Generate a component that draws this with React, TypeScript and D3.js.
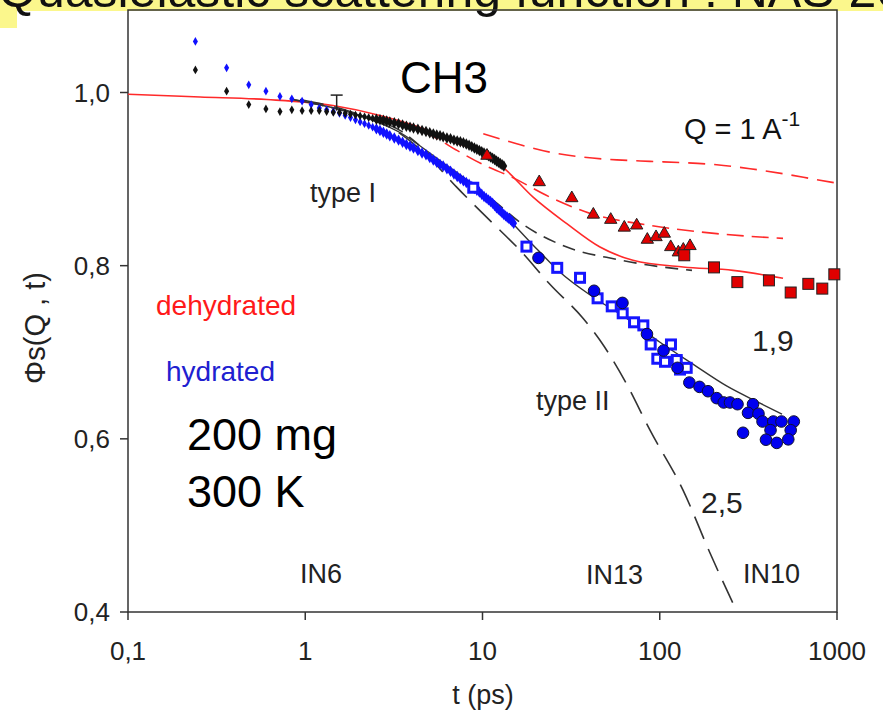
import React from 'react';
import * as d3 from 'd3';

const W = 883;
const H = 711;

const xTickValues = [0.1, 1, 10, 100, 1000];
const xTickLabels = ['0,1', '1', '10', '100', '1000'];
const yTickValues = [0.4, 0.6, 0.8, 1.0];
const yTickLabels = ['0,4', '0,6', '0,8', '1,0'];

// IN6 data (small diamonds)
const in6DehydT = [0.24, 0.36, 0.48, 0.60, 0.72, 0.84, 0.96, 1.08, 1.20,
  1.32, 1.44, 1.56, 1.68, 1.80, 1.92, 2.04, 2.16, 2.28, 2.40,
  2.52, 2.64, 2.76, 2.88, 3.00,
  3.18, 3.36, 3.54, 3.72, 3.90, 4.08,
  4.32, 4.56, 4.80, 5.04, 5.28, 5.52, 5.76, 6.00,
  6.30, 6.60, 6.90, 7.20, 7.50, 7.80, 8.10, 8.40, 8.70, 9.00,
  9.30, 9.60, 9.90, 10.2, 10.5, 10.8, 11.1, 11.4, 11.7, 12.0,
  12.3, 12.6, 12.9, 13.2];
const in6DehydV = [1.026, 1.0015, 0.986, 0.981, 0.978, 0.980, 0.979, 0.979, 0.979,
  0.978, 0.977, 0.977, 0.976, 0.975, 0.974, 0.973, 0.972, 0.971, 0.970,
  0.969, 0.9685, 0.968, 0.967, 0.966,
  0.965, 0.964, 0.9625, 0.961, 0.960, 0.959,
  0.9575, 0.956, 0.955, 0.9535, 0.952, 0.951, 0.950, 0.949,
  0.9475, 0.9465, 0.945, 0.944, 0.943, 0.942, 0.9405, 0.939, 0.9375, 0.936,
  0.9345, 0.933, 0.9315, 0.930, 0.9285, 0.927, 0.9255, 0.924, 0.9225, 0.921,
  0.9195, 0.918, 0.9165, 0.915];

const in6HydT = [0.24, 0.36, 0.48, 0.60, 0.72, 0.84, 0.96, 1.08, 1.20,
  1.32, 1.44, 1.56, 1.68, 1.80, 1.92, 2.04, 2.16, 2.28, 2.40,
  2.52, 2.64, 2.76, 2.88, 3.00,
  3.18, 3.36, 3.54, 3.72, 3.90, 4.08,
  4.32, 4.56, 4.80, 5.04, 5.28, 5.52, 5.76, 6.00,
  6.30, 6.60, 6.90, 7.20, 7.50, 7.80, 8.10, 8.40, 8.70, 9.00,
  9.30, 9.60, 9.90, 10.2, 10.5, 10.8, 11.1, 11.4, 11.7, 12.0,
  12.3, 12.6, 12.9, 13.2, 13.5, 13.8, 14.1, 14.4, 14.7, 15.0];
const in6HydV = [1.059, 1.0285, 1.0089, 1.0015, 0.9954, 0.9927, 0.990, 0.986, 0.982,
  0.980, 0.978, 0.976, 0.9735, 0.971, 0.9685, 0.966, 0.964, 0.962, 0.960,
  0.958, 0.956, 0.954, 0.952, 0.950,
  0.9475, 0.945, 0.9425, 0.940, 0.938, 0.936,
  0.933, 0.930, 0.928, 0.925, 0.922, 0.9195, 0.917, 0.915,
  0.912, 0.909, 0.906, 0.903, 0.9005, 0.898, 0.896, 0.894, 0.8915, 0.889,
  0.887, 0.885, 0.8825, 0.880, 0.878, 0.876, 0.874, 0.872, 0.8695, 0.867,
  0.865, 0.863, 0.861, 0.859, 0.8575, 0.856, 0.8545, 0.853, 0.851, 0.849];

// IN13 hydrated (open blue squares)
const in13HydT = [8.87, 17.7, 26.4, 35.5, 44.6, 53.6, 61.8, 71.6, 80.8, 88.9, 115.7, 96.9, 107.1, 124.7, 130.1, 141.9];
const in13HydV = [0.890, 0.822, 0.7975, 0.786, 0.7623, 0.753, 0.745, 0.7346, 0.731, 0.709, 0.709, 0.6925, 0.689, 0.691, 0.680, 0.682];

// IN10 hydrated (filled blue circles)
const in10HydT = [20.7, 42.6, 61.6, 84.7, 105, 125.9, 146.9, 167.6, 187.2, 209.5, 229.6, 249, 274.6, 335.8, 314.7, 360.6, 380, 437.2, 486, 570.5, 421.7, 548, 295, 397.5, 457, 531];
const in10HydV = [0.809, 0.771, 0.757, 0.721, 0.702, 0.682, 0.665, 0.660, 0.655, 0.647, 0.642, 0.642, 0.640, 0.640, 0.630, 0.629, 0.620, 0.620, 0.620, 0.620, 0.610, 0.610, 0.607, 0.599, 0.5953, 0.5994];

// IN13 dehydrated (red triangles)
const in13DehydT = [10.6, 20.9, 31.9, 42.2, 52.9, 63.1, 74.1, 85.1, 95.3, 106.1, 115.3, 127.3, 135.8, 148.2];
const in13DehydV = [0.927, 0.8965, 0.878, 0.859, 0.853, 0.844, 0.8465, 0.830, 0.833, 0.837, 0.8215, 0.8154, 0.8185, 0.8227];

// IN10 dehydrated (red squares)
const in10DehydT = [137.5, 202.3, 274, 413, 548, 689, 826, 966];
const in10DehydV = [0.812, 0.798, 0.781, 0.783, 0.769, 0.779, 0.7735, 0.790];

// model curves
const redSolidT = [0.1, 0.255, 0.608, 1.434, 2.64, 4.44, 6.56, 9.68, 13.05, 19.3, 29.9, 46.0, 70.6, 135.3, 259, 496];
const redSolidV = [0.998, 0.9948, 0.9919, 0.985, 0.9735, 0.9596, 0.9446, 0.9308, 0.9135, 0.8792, 0.8485, 0.8215, 0.8062, 0.7984, 0.7946, 0.7854];

const redMidT = [3.42, 5.54, 7.18, 10.3, 14.6, 24.0, 40.4, 88.1, 209.5, 496];
const redMidV = [0.9665, 0.9469, 0.9331, 0.9158, 0.9023, 0.8792, 0.8604, 0.8465, 0.837, 0.8315];

const redUpperT = [10.1, 15.6, 24.0, 37.0, 57.2, 88.1, 135.8, 209.5, 323, 498, 769, 996];
const redUpperV = [0.9523, 0.9408, 0.9311, 0.9253, 0.9222, 0.9205, 0.919, 0.9165, 0.912, 0.9062, 0.8993, 0.8953];

const blackShortT = [0.82, 1.79, 3.42, 6.56, 11.5, 16.9, 29.9, 57.2, 88.1, 152];
const blackShortV = [0.9925, 0.9769, 0.9562, 0.9077, 0.8754, 0.8477, 0.8215, 0.8073, 0.8004, 0.7946];

const blackSolidT = [0.82, 1.79, 3.42, 5.75, 8.5, 12.55, 20.6, 27.4, 42.0, 65.1, 100.3, 154, 239.5, 367.8, 489.6];
const blackSolidV = [0.9925, 0.9769, 0.9538, 0.9215, 0.8962, 0.8639, 0.8177, 0.7923, 0.7638, 0.7392, 0.7115, 0.6862, 0.6608, 0.6412, 0.6285];

const blackLongT = [0.933, 1.79, 3.42, 5.06, 7.15, 11.0, 16.3, 24.0, 36.9, 46.0, 65.1, 88.1, 135.3, 192.1, 272.8];
const blackLongV = [0.9919, 0.9781, 0.9527, 0.9238, 0.8907, 0.8523, 0.8177, 0.7785, 0.7392, 0.7139, 0.6631, 0.61, 0.5408, 0.4681, 0.4];

const errT = 1.504;
const errLow = 0.979;
const errHigh = 0.997;

const FONT = 'Liberation Sans, Arial, Helvetica, sans-serif';

const zip = (a: number[], b: number[]) => a.map((t, i) => [t, b[i]] as [number, number]);

export default function App() {
  const x = d3.scaleLog().domain([0.1, 1000]).range([128, 837]);
  const y = d3.scaleLinear().domain([0.4, 1.0]).range([612, 92.5]);
  const frameTop = 10;
  const left = x(0.1);
  const right = x(1000);
  const bottom = y(0.4);

  const line = d3
    .line<[number, number]>()
    .x((d) => x(d[0]))
    .y((d) => y(d[1]))
    .curve(d3.curveMonotoneX);

  const diamondSmall = d3.symbol().type(d3.symbolDiamond).size(22)() as string;
  const diamondBig = d3.symbol().type(d3.symbolDiamond).size(38)() as string;
  const triangle = d3.symbol().type(d3.symbolTriangle).size(66)() as string;
  const dPath = (t: number) => (t > 2.5 ? diamondBig : diamondSmall);

  return (
    <svg width={W} height={H} style={{ position: 'absolute', left: 0, top: 0, background: '#fff' }}>
      <rect x={0} y={0} width={W} height={H} fill="#fff" />
      {/* title banner */}
      <rect x={0} y={0} width={W} height={11} fill="#fbf78c" />
      <rect x={0} y={0} width={17} height={28} fill="#fbf78c" />
      <text x={-2} y={7} fontFamily={FONT} fontSize={50} fill="#111">
        Quasielastic scattering function : NAS 20
      </text>

      {/* frame */}
      <rect x={left} y={frameTop} width={right - left} height={bottom - frameTop} fill="none" stroke="#333" strokeWidth={1.5} />

      {/* x ticks */}
      {xTickValues.map((v, i) => (
        <g key={'xt' + i}>
          <line x1={x(v)} x2={x(v)} y1={bottom} y2={bottom + 8} stroke="#333" strokeWidth={1.5} />
          <text x={x(v)} y={660} textAnchor="middle" fontFamily={FONT} fontSize={26} fill="#222">
            {xTickLabels[i]}
          </text>
        </g>
      ))}
      {/* y ticks */}
      {yTickValues.map((v, i) => (
        <g key={'yt' + i}>
          <line x1={left - 8} x2={left} y1={y(v)} y2={y(v)} stroke="#333" strokeWidth={1.5} />
          <text x={110} y={y(v) + 9} textAnchor="end" fontFamily={FONT} fontSize={26} fill="#222">
            {yTickLabels[i]}
          </text>
        </g>
      ))}
      <text x={483} y={704} textAnchor="middle" fontFamily={FONT} fontSize={27} fill="#222">
        t (ps)
      </text>
      <text
        transform="translate(45,328) rotate(-90)"
        textAnchor="middle"
        fontFamily={FONT}
        fontSize={29}
        fill="#222"
      >
        Φs(Q , t)
      </text>

      {/* model curves */}
      <path d={line(zip(redUpperT, redUpperV)) as string} fill="none" stroke="#ff2a2a" strokeWidth={1.6} strokeDasharray="17 9" />
      <path d={line(zip(redMidT, redMidV)) as string} fill="none" stroke="#ff2a2a" strokeWidth={1.6} strokeDasharray="17 8" />
      <path d={line(zip(redSolidT, redSolidV)) as string} fill="none" stroke="#ff2a2a" strokeWidth={1.6} />
      <path d={line(zip(blackShortT, blackShortV)) as string} fill="none" stroke="#333" strokeWidth={1.6} strokeDasharray="13 8" />
      <path d={line(zip(blackSolidT, blackSolidV)) as string} fill="none" stroke="#333" strokeWidth={1.4} />
      <path d={line(zip(blackLongT, blackLongV)) as string} fill="none" stroke="#333" strokeWidth={1.6} strokeDasharray="24 11" />

      {/* IN6 diamonds */}
      {in6HydT.map((t, i) => (
        <path key={'bh' + i} d={dPath(t)} transform={`translate(${x(t)},${y(in6HydV[i])})`} fill="#1010ff" />
      ))}
      {in6DehydT.map((t, i) => (
        <path key={'bd' + i} d={dPath(t)} transform={`translate(${x(t)},${y(in6DehydV[i])})`} fill="#111" />
      ))}

      {/* error bar */}
      <g stroke="#222" strokeWidth={1.5}>
        <line x1={x(errT)} x2={x(errT)} y1={y(errLow)} y2={y(errHigh)} />
        <line x1={x(errT) - 6} x2={x(errT) + 6} y1={y(errHigh)} y2={y(errHigh)} />
      </g>

      {/* IN13 dehydrated triangles */}
      {in13DehydT.map((t, i) => (
        <path key={'tr' + i} d={triangle} transform={`translate(${x(t)},${y(in13DehydV[i])})`} fill="#e00000" stroke="#222" strokeWidth={1} />
      ))}
      {/* IN10 dehydrated squares */}
      {in10DehydT.map((t, i) => (
        <rect key={'rs' + i} x={x(t) - 5.5} y={y(in10DehydV[i]) - 5.5} width={11} height={11} fill="#e00000" stroke="#222" strokeWidth={1} />
      ))}
      {/* IN13 hydrated open squares */}
      {in13HydT.map((t, i) => (
        <rect key={'os' + i} x={x(t) - 4.5} y={y(in13HydV[i]) - 4.5} width={9} height={9} fill="#fff" stroke="#1515ff" strokeWidth={3} />
      ))}
      {/* IN10 hydrated circles */}
      {in10HydT.map((t, i) => (
        <circle key={'c' + i} cx={x(t)} cy={y(in10HydV[i])} r={5.8} fill="#0000f0" stroke="#101030" strokeWidth={1} />
      ))}

      {/* annotations */}
      <text x={400} y={93} fontFamily={FONT} fontSize={44} fill="#000">CH3</text>
      <text x={684} y={139} fontFamily={FONT} fontSize={29} fill="#111">
        Q = 1 A<tspan dy={-13} fontSize={21}>-1</tspan>
      </text>
      <text x={310} y={202} fontFamily={FONT} fontSize={27} fill="#222">type I</text>
      <text x={536} y={410} fontFamily={FONT} fontSize={27} fill="#222">type II</text>
      <text x={752} y={351} fontFamily={FONT} fontSize={30} fill="#222">1,9</text>
      <text x={701} y={513} fontFamily={FONT} fontSize={30} fill="#222">2,5</text>
      <text x={156} y={315} fontFamily={FONT} fontSize={28} fill="#ff1a1a">dehydrated</text>
      <text x={166} y={381} fontFamily={FONT} fontSize={28} fill="#2020d0">hydrated</text>
      <text x={187} y={450} fontFamily={FONT} fontSize={45} fill="#000">200 mg</text>
      <text x={187} y={507} fontFamily={FONT} fontSize={45} fill="#000">300 K</text>
      <text x={300} y={583} fontFamily={FONT} fontSize={27} fill="#222">IN6</text>
      <text x={586} y={584} fontFamily={FONT} fontSize={27} fill="#222">IN13</text>
      <text x={743} y={583} fontFamily={FONT} fontSize={27} fill="#222">IN10</text>
    </svg>
  );
}
